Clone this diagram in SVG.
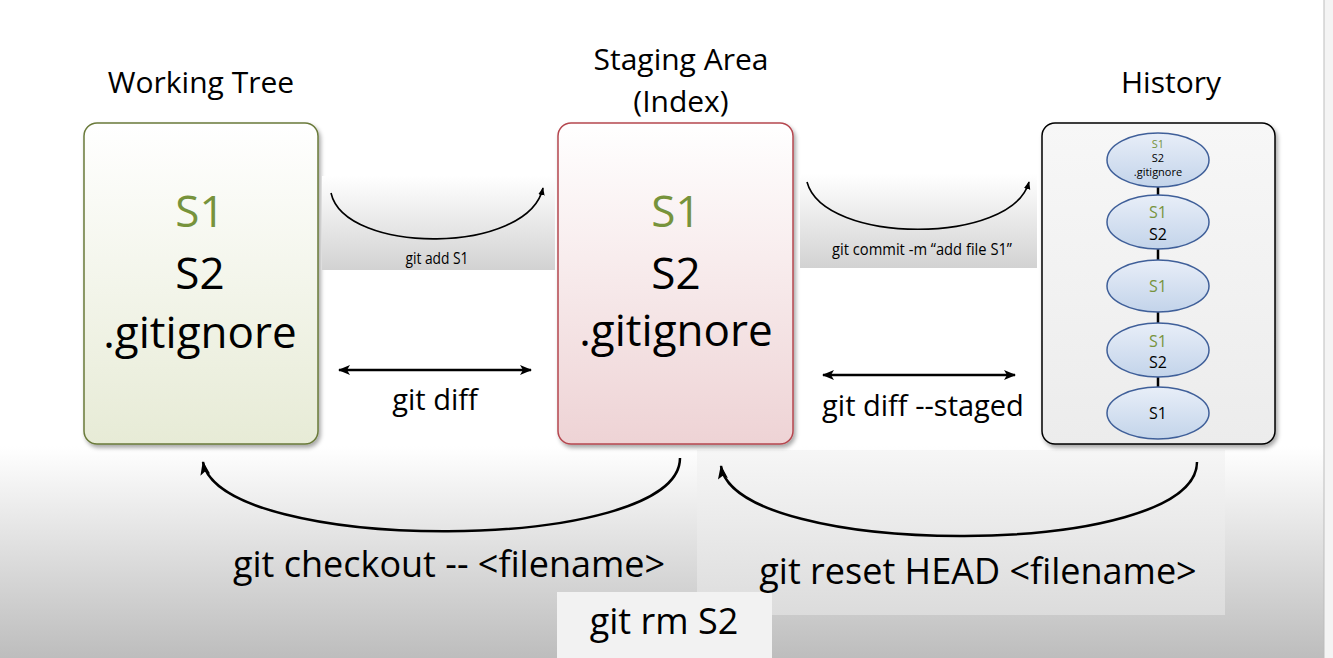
<svg xmlns="http://www.w3.org/2000/svg" width="1333" height="658" viewBox="0 0 1333 658">
<defs>
<linearGradient id="bgGrad" x1="0" y1="0" x2="0" y2="1">
<stop offset="0" stop-color="#ffffff"/>
<stop offset="1" stop-color="#bdbdbd"/>
</linearGradient>
<linearGradient id="panelGrad" x1="0" y1="0" x2="0" y2="1">
<stop offset="0" stop-color="#f6f6f6"/>
<stop offset="1" stop-color="#dcdcdc"/>
</linearGradient>
<linearGradient id="barGrad" x1="0" y1="0" x2="0" y2="1">
<stop offset="0" stop-color="#ffffff"/>
<stop offset="1" stop-color="#d2d2d2"/>
</linearGradient>
<linearGradient id="greenGrad" x1="0" y1="0" x2="0" y2="1">
<stop offset="0" stop-color="#ffffff"/>
<stop offset="1" stop-color="#e7ebd6"/>
</linearGradient>
<linearGradient id="redGrad" x1="0" y1="0" x2="0" y2="1">
<stop offset="0" stop-color="#ffffff"/>
<stop offset="1" stop-color="#eed3d5"/>
</linearGradient>
<linearGradient id="grayGrad" x1="0" y1="0" x2="0" y2="1">
<stop offset="0" stop-color="#f7f7f7"/>
<stop offset="1" stop-color="#ececec"/>
</linearGradient>
<linearGradient id="blueGrad" x1="0" y1="0" x2="0" y2="1">
<stop offset="0" stop-color="#e8eef8"/>
<stop offset="1" stop-color="#c3d4ea"/>
</linearGradient>
<filter id="shadow" x="-10%" y="-10%" width="130%" height="130%">
<feDropShadow dx="2" dy="3" stdDeviation="2" flood-color="#000" flood-opacity="0.35"/>
</filter>
<marker id="arrowBig" viewBox="0 0 12 10" refX="11" refY="5" markerWidth="12" markerHeight="10" markerUnits="userSpaceOnUse" orient="auto-start-reverse">
<path d="M0,0 L12,5 L0,10 L3,5 Z" fill="#000"/>
</marker>
<marker id="arrowSmall" viewBox="0 0 10 8" refX="9" refY="4" markerWidth="8" markerHeight="7" markerUnits="userSpaceOnUse" orient="auto">
<path d="M0,0 L10,4 L0,8 Z" fill="#000"/>
</marker>
<marker id="arrowCurve" viewBox="0 0 14 10" refX="13" refY="5" markerWidth="14" markerHeight="10" markerUnits="userSpaceOnUse" orient="auto">
<path d="M0,0 L14,5 L0,10 L3,5 Z" fill="#000"/>
</marker>
</defs>
<style>
text { font-family: "Open Sans", "Liberation Sans", sans-serif; fill: #000; }
.title { font-size: 30px; text-anchor: middle; }
.big { font-size: 44px; text-anchor: middle; }
.green { fill: #77933c; }
.lbl { font-size: 29px; text-anchor: middle; }
.cmd { font-size: 36px; text-anchor: middle; }
.small { font-size: 16px; text-anchor: middle; }
.ell { fill: url(#blueGrad); stroke: #3f5f99; stroke-width: 1.5; }
.conn { fill: none; stroke: #000; }
</style>

<rect x="0" y="0" width="1333" height="658" fill="#ffffff"/>
<rect x="0" y="446" width="1333" height="212" fill="url(#bgGrad)"/>
<rect x="697" y="450" width="528" height="165" fill="url(#panelGrad)"/>
<rect x="557" y="592" width="215" height="66" fill="#f2f2f2"/>
<rect x="1324" y="0" width="9" height="658" fill="#f4f4f4"/>
<line x1="1324" y1="0" x2="1324" y2="658" stroke="#bdbdbd" stroke-width="1"/>

<g id="title-working">
<text class="title" x="201" y="93">Working Tree</text>
</g>
<g id="title-staging">
<text class="title" x="681" y="70">Staging Area</text>
<text class="title" x="681" y="112">(Index)</text>
</g>
<g id="title-history">
<text class="title" x="1171" y="93">History</text>
</g>

<g id="working-tree">
<rect x="84" y="123" width="234" height="321" rx="13" fill="url(#greenGrad)" stroke="#6a7a3a" stroke-width="1.5" filter="url(#shadow)"/>
<text class="big green" x="200" y="227">S1</text>
<text class="big" x="200" y="289">S2</text>
<text class="big" x="200" y="348">.gitignore</text>
</g>

<g id="staging-area">
<rect x="558" y="123" width="235" height="321" rx="13" fill="url(#redGrad)" stroke="#b5474f" stroke-width="1.5" filter="url(#shadow)"/>
<text class="big green" x="676" y="227">S1</text>
<text class="big" x="676" y="289">S2</text>
<text class="big" x="676" y="346">.gitignore</text>
</g>

<g id="history">
<rect x="1042" y="123" width="233" height="321" rx="13" fill="url(#grayGrad)" stroke="#000" stroke-width="1.5" filter="url(#shadow)"/>
<g id="history-links">
<line x1="1158" y1="187" x2="1158" y2="196" stroke="#000" stroke-width="2.5"/>
<line x1="1158" y1="248" x2="1158" y2="261" stroke="#000" stroke-width="2.5"/>
<line x1="1158" y1="312" x2="1158" y2="325" stroke="#000" stroke-width="2.5"/>
<line x1="1158" y1="376" x2="1158" y2="388" stroke="#000" stroke-width="2.5"/>
</g>
<g id="commit1">
<ellipse class="ell" cx="1158" cy="160" rx="51" ry="27"/>
<text class="green" x="1158" y="148" font-size="11" text-anchor="middle">S1</text>
<text x="1158" y="162" font-size="11" text-anchor="middle">S2</text>
<text x="1158" y="176" font-size="11" text-anchor="middle">.gitignore</text>
</g>
<g id="commit2">
<ellipse class="ell" cx="1158" cy="222" rx="51" ry="27"/>
<text class="green" x="1158" y="218" font-size="16" text-anchor="middle">S1</text>
<text x="1158" y="240" font-size="16" text-anchor="middle">S2</text>
</g>
<g id="commit3">
<ellipse class="ell" cx="1158" cy="286" rx="51" ry="26"/>
<text class="green" x="1158" y="292" font-size="16" text-anchor="middle">S1</text>
</g>
<g id="commit4">
<ellipse class="ell" cx="1158" cy="350" rx="51" ry="27"/>
<text class="green" x="1158" y="347" font-size="16" text-anchor="middle">S1</text>
<text x="1158" y="368" font-size="16" text-anchor="middle">S2</text>
</g>
<g id="commit5">
<ellipse class="ell" cx="1158" cy="413" rx="51" ry="26"/>
<text x="1158" y="419" font-size="16" text-anchor="middle">S1</text>
</g>
</g>

<g id="connectors">
<g id="git-add">
<rect x="322" y="176" width="233" height="94" fill="url(#barGrad)"/>
<path class="conn" d="M331,193 C345,255 528,255 543,188" stroke-width="1.6" marker-end="url(#arrowSmall)"/>
<text class="small" x="437" y="264" textLength="63" lengthAdjust="spacingAndGlyphs">git add S1</text>
</g>
<g id="git-commit">
<rect x="800" y="174" width="237" height="94" fill="url(#barGrad)"/>
<path class="conn" d="M807,182 C824,245 1012,245 1029,182" stroke-width="1.6" marker-end="url(#arrowSmall)"/>
<text class="small" x="922" y="255" textLength="180" lengthAdjust="spacingAndGlyphs">git commit -m “add file S1”</text>
</g>
<g id="git-diff">
<line class="conn" x1="339" y1="370" x2="531" y2="370" stroke-width="2.5" marker-start="url(#arrowBig)" marker-end="url(#arrowBig)"/>
<text class="lbl" x="435" y="410">git diff</text>
</g>
<g id="git-diff-staged">
<line class="conn" x1="823" y1="375" x2="1015" y2="375" stroke-width="2.5" marker-start="url(#arrowBig)" marker-end="url(#arrowBig)"/>
<text class="lbl" x="923" y="416">git diff --staged</text>
</g>
<g id="git-checkout">
<path class="conn" d="M680,458 C680,555 220,555 203,462" stroke-width="2.5" marker-end="url(#arrowCurve)"/>
<text class="cmd" x="449" y="577">git checkout -- &lt;filename&gt;</text>
</g>
<g id="git-reset">
<path class="conn" d="M1197,462 C1197,560 735,560 721,466" stroke-width="2.5" marker-end="url(#arrowCurve)"/>
<text class="cmd" x="978" y="584">git reset HEAD &lt;filename&gt;</text>
</g>
<g id="git-rm">
<text class="cmd" x="664" y="634">git rm S2</text>
</g>
</g>
</svg>
